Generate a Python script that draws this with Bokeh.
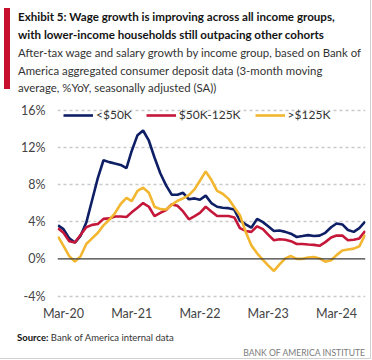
import pandas as pd
from bokeh.plotting import figure
from bokeh.layouts import column
from bokeh.models import (Range1d, FixedTicker, DatetimeTickFormatter, PrintfTickFormatter,
                          Legend, LegendItem, Span, Div)
from bokeh.embed import file_html
from bokeh.resources import INLINE

# ---- data (monthly, %YoY, 3-month moving average) ----
start_month = "2020-02-01"
lt_50k = [3.6, 3.2, 2.2, 1.75, 2.5, 3.9, 6.3, 8.7, 10.6, 10.4, 10.25, 10.1, 9.75, 11.6, 13.3,
          13.8, 12.7, 10.9, 9.2, 7.9, 6.9, 6.9, 7.1, 6.4, 6.5, 6.35, 6.8, 6.0, 5.6, 5.5, 5.45,
          5.3, 4.1, 3.7, 3.35, 4.3, 3.95, 3.5, 3.0, 3.05, 2.9, 2.7, 2.35, 2.45, 2.55, 2.45, 2.5,
          2.8, 3.4, 3.8, 3.7, 3.1, 2.9, 3.3, 4.0]
mid_50_125k = [3.3, 2.8, 1.9, 1.75, 2.6, 3.4, 3.65, 3.75, 4.3, 4.35, 4.55, 4.55, 4.5, 5.0, 5.5,
               6.0, 5.6, 4.6, 4.95, 5.25, 5.85, 5.7, 5.1, 4.25, 4.6, 4.95, 5.6, 5.1, 4.6, 4.6,
               4.6, 4.45, 3.3, 3.0, 2.9, 3.5, 3.2, 2.6, 2.0, 2.1, 2.05, 1.9, 1.6, 1.6, 1.55, 1.5,
               1.4, 1.8, 2.3, 2.5, 2.5, 2.0, 2.05, 2.2, 3.0]
gt_125k = [2.4, 1.4, 0.3, -0.3, 0.3, 1.6, 2.2, 2.8, 3.6, 4.2, 4.9, 5.9, 6.55, 6.2, 7.3, 7.65, 7.1,
           5.6, 5.35, 5.3, 5.8, 6.25, 6.5, 6.85, 7.5, 8.4, 9.4, 8.5, 7.3, 7.0, 6.45, 5.55, 4.7,
           2.9, 1.45, 0.6, -0.1, -0.7, -1.3, -0.6, 0.05, 0.3, 0.0, 0.0, 0.15, 0.2, 0.05, -0.3,
           -0.15, 0.4, 0.9, 1.0, 1.1, 1.35, 2.6]
series_names = ["<$50K", "$50K-125K", ">$125K"]
y_ticks = [-4, 0, 4, 8, 12, 16]
x_tick_dates = ["2020-03-01", "2021-03-01", "2022-03-01", "2023-03-01", "2024-03-01"]

title_lines = ["Exhibit 5: Wage growth is improving across all income groups,",
               "with lower-income households still outpacing other cohorts"]
sub_lines = ["After-tax wage and salary growth by income group, based on Bank of",
             "America aggregated consumer deposit data (3-month moving",
             "average, %YoY, seasonally adjusted (SA))"]
source_label = "Source:"
source_text = "Bank of America internal data"
brand_text = "BANK OF AMERICA INSTITUTE"

months = pd.date_range(start_month, periods=len(lt_50k), freq="MS")

NAVY = "#0e1f66"
RED = "#c4173a"
GOLD = "#f2b630"
FONT = "Lato"
W = 372
HEAD_H, CHART_H, FOOT_H = 100, 224, 36

# ---- header ----
head_html = (
    f'<div style="position:relative;width:{W}px;height:{HEAD_H}px;font-family:{FONT};">'
    '<div style="position:absolute;left:4px;top:8px;width:6px;height:81px;background:#c8102e;"></div>'
    '<div style="position:absolute;left:18px;top:7.5px;font-weight:bold;font-size:11.6px;'
    'line-height:18px;color:#141414;white-space:nowrap;">' + "<br>".join(title_lines) + '</div>'
    '<div style="position:absolute;left:18px;top:44.3px;font-size:11.4px;'
    'line-height:17.5px;color:#333333;white-space:nowrap;">' + "<br>".join(sub_lines) + '</div>'
    '</div>')
head = Div(text=head_html, width=W, height=HEAD_H, margin=0)

# ---- chart ----
BL, BR, BT = 57, 7, 6
FW, FH = W - BL - BR, 193
p = figure(width=W, height=CHART_H, output_backend="svg", toolbar_location=None,
           x_axis_type="datetime", frame_width=FW, frame_height=FH,
           x_range=Range1d(months[0] - pd.Timedelta(days=3), months[-1] + pd.Timedelta(days=2)),
           y_range=Range1d(-4.37, 16.38),
           min_border_left=BL, min_border_right=BR, min_border_top=BT,
           min_border_bottom=CHART_H - BT - FH, margin=0)
p.outline_line_color = None
p.background_fill_alpha = 0
p.border_fill_alpha = 0

p.xgrid.visible = False
p.ygrid.ticker = FixedTicker(ticks=[t for t in y_ticks if t != 0])
p.ygrid.grid_line_color = "#c9c9c9"
p.ygrid.grid_line_dash = "3 3"
p.ygrid.grid_line_width = 1.3
p.add_layout(Span(location=0, dimension="width", line_color="#3a3a3a", line_width=1.2))

p.yaxis.ticker = FixedTicker(ticks=y_ticks)
p.yaxis.formatter = PrintfTickFormatter(format="%d%%")
p.xaxis.ticker = FixedTicker(ticks=[pd.Timestamp(d).timestamp() * 1000 for d in x_tick_dates])
fmt = "%b-%y"
p.xaxis.formatter = DatetimeTickFormatter(years=fmt, months=fmt, days=fmt, hours=fmt,
                                          minutes=fmt, seconds=fmt, milliseconds=fmt,
                                          microseconds=fmt, hourmin=fmt, minsec=fmt)
for ax in (p.xaxis[0], p.yaxis[0]):
    ax.axis_line_color = None
    ax.major_tick_line_color = None
    ax.minor_tick_line_color = None
    ax.major_tick_in = 0
    ax.major_tick_out = 0
    ax.major_label_text_font = FONT
    ax.major_label_text_font_size = "12.5px"
    ax.major_label_text_color = "#444444"
p.yaxis.major_label_standoff = 12
p.xaxis.major_label_standoff = 6

r1 = p.line(months, lt_50k, line_color=NAVY, line_width=2.6)
r2 = p.line(months, mid_50_125k, line_color=RED, line_width=2.6)
r3 = p.line(months, gt_125k, line_color=GOLD, line_width=2.6)

legend = Legend(items=[LegendItem(label=series_names[0], renderers=[r1]),
                       LegendItem(label=series_names[1], renderers=[r2]),
                       LegendItem(label=series_names[2], renderers=[r3])],
                orientation="horizontal", location=(6, FH - 16),
                glyph_width=30, glyph_height=12, label_height=12, label_standoff=3,
                spacing=14, padding=0, margin=0, background_fill_alpha=0,
                border_line_color=None, label_text_font=FONT, label_text_font_size="12px",
                label_text_color="#333333")
p.add_layout(legend)

# ---- footer ----
foot_html = (
    f'<div style="position:relative;width:{W}px;height:{FOOT_H}px;font-family:{FONT};">'
    '<div style="position:absolute;left:17px;top:9.3px;font-size:9.5px;line-height:10px;'
    'color:#333333;white-space:nowrap;"><b style="color:#141414;">' + source_label + '</b> '
    + source_text + '</div>'
    '<div style="position:absolute;right:7px;top:23.8px;font-size:8.6px;line-height:10px;'
    'color:#7a7a7a;white-space:nowrap;">' + brand_text + '</div>'
    '</div>')
foot = Div(text=foot_html, width=W, height=FOOT_H, margin=0)

layout = column(head, p, foot, spacing=0,
                styles={"background": "white",
                        "box-shadow": "inset -1px -1px 0 0 white, inset -2px -2px 0 0 #d2d2d2"})
open("out.html", "w").write(file_html(layout, INLINE))
